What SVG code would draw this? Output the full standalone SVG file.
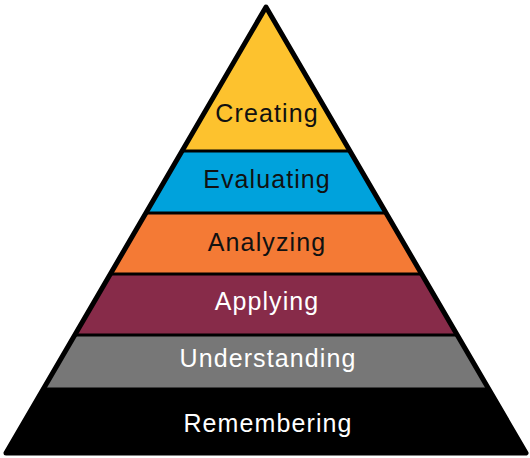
<svg xmlns="http://www.w3.org/2000/svg" width="530" height="458" viewBox="0 0 530 458">
<style>
.lbl{font-family:"Liberation Sans",Arial,sans-serif;font-size:25px;letter-spacing:1.1px;text-anchor:middle}
.dk{fill:#111}
.lt{fill:#fff}
.sep{stroke:#000;stroke-width:3;fill:none}
.outline{stroke:#000;stroke-width:5;fill:none;stroke-linejoin:round}
</style>
<rect width="530" height="458" fill="#fff"/>
<g id="creating">
<polygon points="266,7 349.9,151 182.1,151" fill="#FDC22E"/>
<text class="lbl dk" x="267" y="122">Creating</text>
</g>
<g id="evaluating">
<polygon points="182.1,151 349.9,151 386.1,213 145.9,213" fill="#00A2DC"/>
<text class="lbl dk" x="267" y="188">Evaluating</text>
</g>
<g id="analyzing">
<polygon points="145.9,213 386.1,213 421.7,274 110.3,274" fill="#F47A35"/>
<text class="lbl dk" x="267" y="251">Analyzing</text>
</g>
<g id="applying">
<polygon points="110.3,274 421.7,274 457.2,335 74.8,335" fill="#872B49"/>
<text class="lbl lt" x="267" y="310">Applying</text>
</g>
<g id="understanding">
<polygon points="74.8,335 457.2,335 488.7,389 43.3,389" fill="#777777"/>
<text class="lbl lt" x="268" y="367">Understanding</text>
</g>
<g id="remembering">
<polygon points="43.3,389 488.7,389 526,453 6,453" fill="#000"/>
<text class="lbl lt" x="268" y="432">Remembering</text>
</g>
<g id="connectors">
<line class="sep" x1="182.1" y1="151" x2="349.9" y2="151"/>
<line class="sep" x1="145.9" y1="213" x2="386.1" y2="213"/>
<line class="sep" x1="110.3" y1="274" x2="421.7" y2="274"/>
<line class="sep" x1="74.8" y1="335" x2="457.2" y2="335"/>
<line class="sep" x1="43.3" y1="389" x2="488.7" y2="389"/>
<polygon class="outline" points="266,7 526,453 6,453"/>
</g>
</svg>
